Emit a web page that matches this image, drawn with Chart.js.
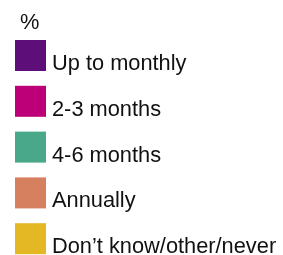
<!DOCTYPE html>
<html>
<head>
<meta charset="utf-8">
<script src="https://cdn.jsdelivr.net/npm/chart.js@4/dist/chart.umd.min.js"></script>
<style>
  body { margin: 0; background: #fff; }
</style>
</head>
<body>
<canvas id="myChart" width="283" height="255"></canvas>
<script>
  "use strict";
  // legend only picture: no category values are visible
  const categories = [];
  const seriesNames = ["Up to monthly", "2-3 months", "4-6 months", "Annually", "Don\u2019t know/other/never"];
  const seriesColors = ["#5d0e78", "#be0078", "#4aa88a", "#d7805f", "#e3b824"];
  const seriesValues = [[], [], [], [], []];
  const unitLabel = "%";

  // draws the legend like the original: box, text sitting on box bottom
  const boxLegend = {
    id: "boxLegend",
    afterDraw: (chart) => {
      const ctx = chart.ctx;
      ctx.save();
      ctx.fillStyle = "#111";
      ctx.font = "21.8px 'Liberation Sans', Arial, sans-serif";
      ctx.textBaseline = "alphabetic";
      ctx.fillText(unitLabel, 20, 29);
      chart.data.datasets.forEach((ds, i) => {
        const y = 40 + i * 45.8;
        ctx.fillStyle = ds.backgroundColor;
        ctx.fillRect(15, y, 31, 31);
        ctx.fillStyle = "#111";
        ctx.fillText(ds.label, 52, y + 30);
      });
      ctx.restore();
    },
  };

  const ctx = document.getElementById("myChart").getContext("2d");
  const chart = new Chart(ctx, {
    type: "bar",
    data: {
      labels: categories,
      datasets: seriesNames.map((name, i) => ({
        label: name,
        backgroundColor: seriesColors[i],
        data: seriesValues[i],
      })),
    },
    options: {
      responsive: false,
      animation: false,
      scales: {
        x: { display: false, stacked: true },
        y: { display: false, stacked: true },
      },
      plugins: {
        legend: { display: false },
        tooltip: { enabled: false },
      },
    },
    plugins: [boxLegend],
  });
</script>
</body>
</html>
